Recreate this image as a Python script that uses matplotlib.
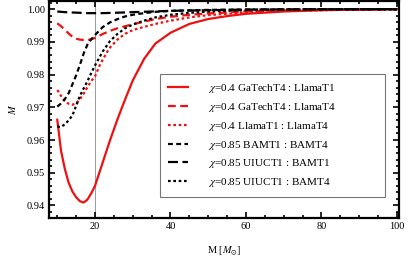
import matplotlib
matplotlib.use("Agg")
from matplotlib import pyplot as plt
from matplotlib.ticker import MultipleLocator

plt.rcParams['font.family'] = ['Liberation Serif', 'DejaVu Serif']
plt.rcParams['mathtext.fontset'] = 'stix'

x_gt_l1 = [10, 11, 12, 13, 14, 15, 16, 17, 18, 19, 20, 22, 24, 26, 28, 30, 33, 36, 40, 45, 50, 55, 60, 70, 80, 90, 100]
m_gt_l1 = [0.9662, 0.9567, 0.9512, 0.9470, 0.9443, 0.9425, 0.9413, 0.9409, 0.9418, 0.9437, 0.9460, 0.9530, 0.9600,
           0.9665, 0.9725, 0.9782, 0.9848, 0.9895, 0.9928, 0.9955, 0.9970, 0.9979, 0.9986, 0.9993, 0.9997, 0.9999, 1.0]

x_gt_l4 = [10, 11, 12, 13, 14, 15, 16, 17, 18, 19, 20, 22, 24, 26, 28, 30, 33, 36, 40, 45, 50, 55, 60, 70, 80, 90, 100]
m_gt_l4 = [0.9957, 0.9948, 0.9937, 0.9926, 0.9916, 0.9910, 0.9907, 0.9906, 0.9906, 0.9908, 0.9912, 0.9924, 0.9934,
           0.9942, 0.9948, 0.9954, 0.9962, 0.9970, 0.9977, 0.9983, 0.9987, 0.9990, 0.9993, 0.9996, 0.9998, 0.9999, 1.0]

x_l1_l4 = [10, 11, 12, 13, 14, 15, 16, 17, 18, 19, 20, 21.3, 22, 23.5, 24, 26, 28, 30, 32, 36, 40, 45, 50, 60, 70, 80, 90, 100]
m_l1_l4 = [0.9753, 0.9735, 0.9720, 0.9711, 0.9708, 0.9712, 0.9725, 0.9742, 0.9762, 0.9780, 0.9795, 0.9830, 0.9845,
           0.9875, 0.9883, 0.9908, 0.9925, 0.9936, 0.9943, 0.9955, 0.9965, 0.9975, 0.9982, 0.9990, 0.9995, 0.9997,
           0.9999, 1.0]

x_ba1_ba4 = [10, 11, 12, 13, 14, 15, 16, 17, 18, 19, 20, 22, 24, 26, 28, 30, 33, 36, 40, 50, 60, 80, 100]
m_ba1_ba4 = [0.9702, 0.9712, 0.9725, 0.9743, 0.9770, 0.9798, 0.9830, 0.9865, 0.9892, 0.9908, 0.9921, 0.9945, 0.9960,
             0.9970, 0.9978, 0.9983, 0.9988, 0.9992, 0.9995, 0.9998, 0.9999, 1.0, 1.0]

x_ui1_ba1 = [10, 12, 14, 16, 18, 20, 22, 25, 30, 35, 40, 50, 60, 80, 100]
m_ui1_ba1 = [0.9993, 0.9991, 0.9990, 0.9989, 0.9988, 0.9988, 0.9988, 0.9989, 0.9991, 0.9993, 0.9995, 0.9997, 0.9999,
             1.0, 1.0]

x_ui1_ba4 = [10, 11, 12, 13, 14, 15, 16, 17, 18, 19, 20, 22, 24, 26, 28, 30, 33, 36, 40, 45, 50, 60, 70, 80, 100]
m_ui1_ba4 = [0.9641, 0.9640, 0.9648, 0.9660, 0.9675, 0.9705, 0.9735, 0.9758, 0.9780, 0.9805, 0.9828, 0.9870, 0.9903,
             0.9925, 0.9942, 0.9953, 0.9965, 0.9975, 0.9983, 0.9989, 0.9993, 0.9997, 0.9999, 1.0, 1.0]

labels = [r'$\chi$=0.4 GaTechT4 : LlamaT1',
          r'$\chi$=0.4 GaTechT4 : LlamaT4',
          r'$\chi$=0.4 LlamaT1 : LlamaT4',
          r'$\chi$=0.85 BAMT1 : BAMT4',
          r'$\chi$=0.85 UIUCT1 : BAMT1',
          r'$\chi$=0.85 UIUCT1 : BAMT4']

fig = plt.figure(figsize=(4.15, 2.6), dpi=100)
ax = fig.add_axes([0.118, 0.162, 0.843, 0.834])

red = '#ee1111'
lw = 1.6
ax.axvline(20, color='#999999', lw=0.7, zorder=1)
ax.plot(x_gt_l1, m_gt_l1, color=red, lw=lw, label=labels[0])
ax.plot(x_gt_l4, m_gt_l4, color=red, lw=lw, dashes=(3.5, 2.0), label=labels[1])
ax.plot(x_l1_l4, m_l1_l4, color=red, lw=lw, dashes=(1.2, 1.2), label=labels[2])
ax.plot(x_ba1_ba4, m_ba1_ba4, color='black', lw=lw, dashes=(2.2, 1.5), label=labels[3])
ax.plot(x_ui1_ba1, m_ui1_ba1, color='black', lw=lw, dashes=(4.5, 2.0), label=labels[4])
ax.plot(x_ui1_ba4, m_ui1_ba4, color='black', lw=lw, dashes=(1.2, 1.2), label=labels[5])

ax.set_xlim(7.8, 100.5)
ax.set_ylim(0.9362, 1.0025)
ax.xaxis.set_major_locator(MultipleLocator(20))
ax.xaxis.set_minor_locator(MultipleLocator(5))
ax.yaxis.set_major_locator(MultipleLocator(0.01))
ax.yaxis.set_minor_locator(MultipleLocator(0.002))
ax.yaxis.set_major_formatter(matplotlib.ticker.FormatStrFormatter('%.2f'))
ax.tick_params(which='both', direction='in', top=True, right=True, labelsize=7.5, width=1.2, pad=3)
ax.tick_params(which='major', length=4)
ax.tick_params(which='minor', length=2)
for s in ax.spines.values():
    s.set_linewidth(1.6)

ax.set_xlabel(r'M [$M_{\odot}$]', fontsize=7.5, labelpad=10)
ax.set_ylabel(r'$M$', fontsize=7.5, labelpad=6)

leg = ax.legend(loc='lower left', bbox_to_anchor=(0.317, 0.097, 0.643, 0.562), mode='expand',
                borderaxespad=0, fontsize=8, frameon=True, fancybox=False, edgecolor='#777777', framealpha=1,
                handlelength=1.8, handletextpad=1.8, labelspacing=0.52, borderpad=0.7)
leg.get_frame().set_linewidth(0.8)

fig.savefig('out.png', dpi=100)
